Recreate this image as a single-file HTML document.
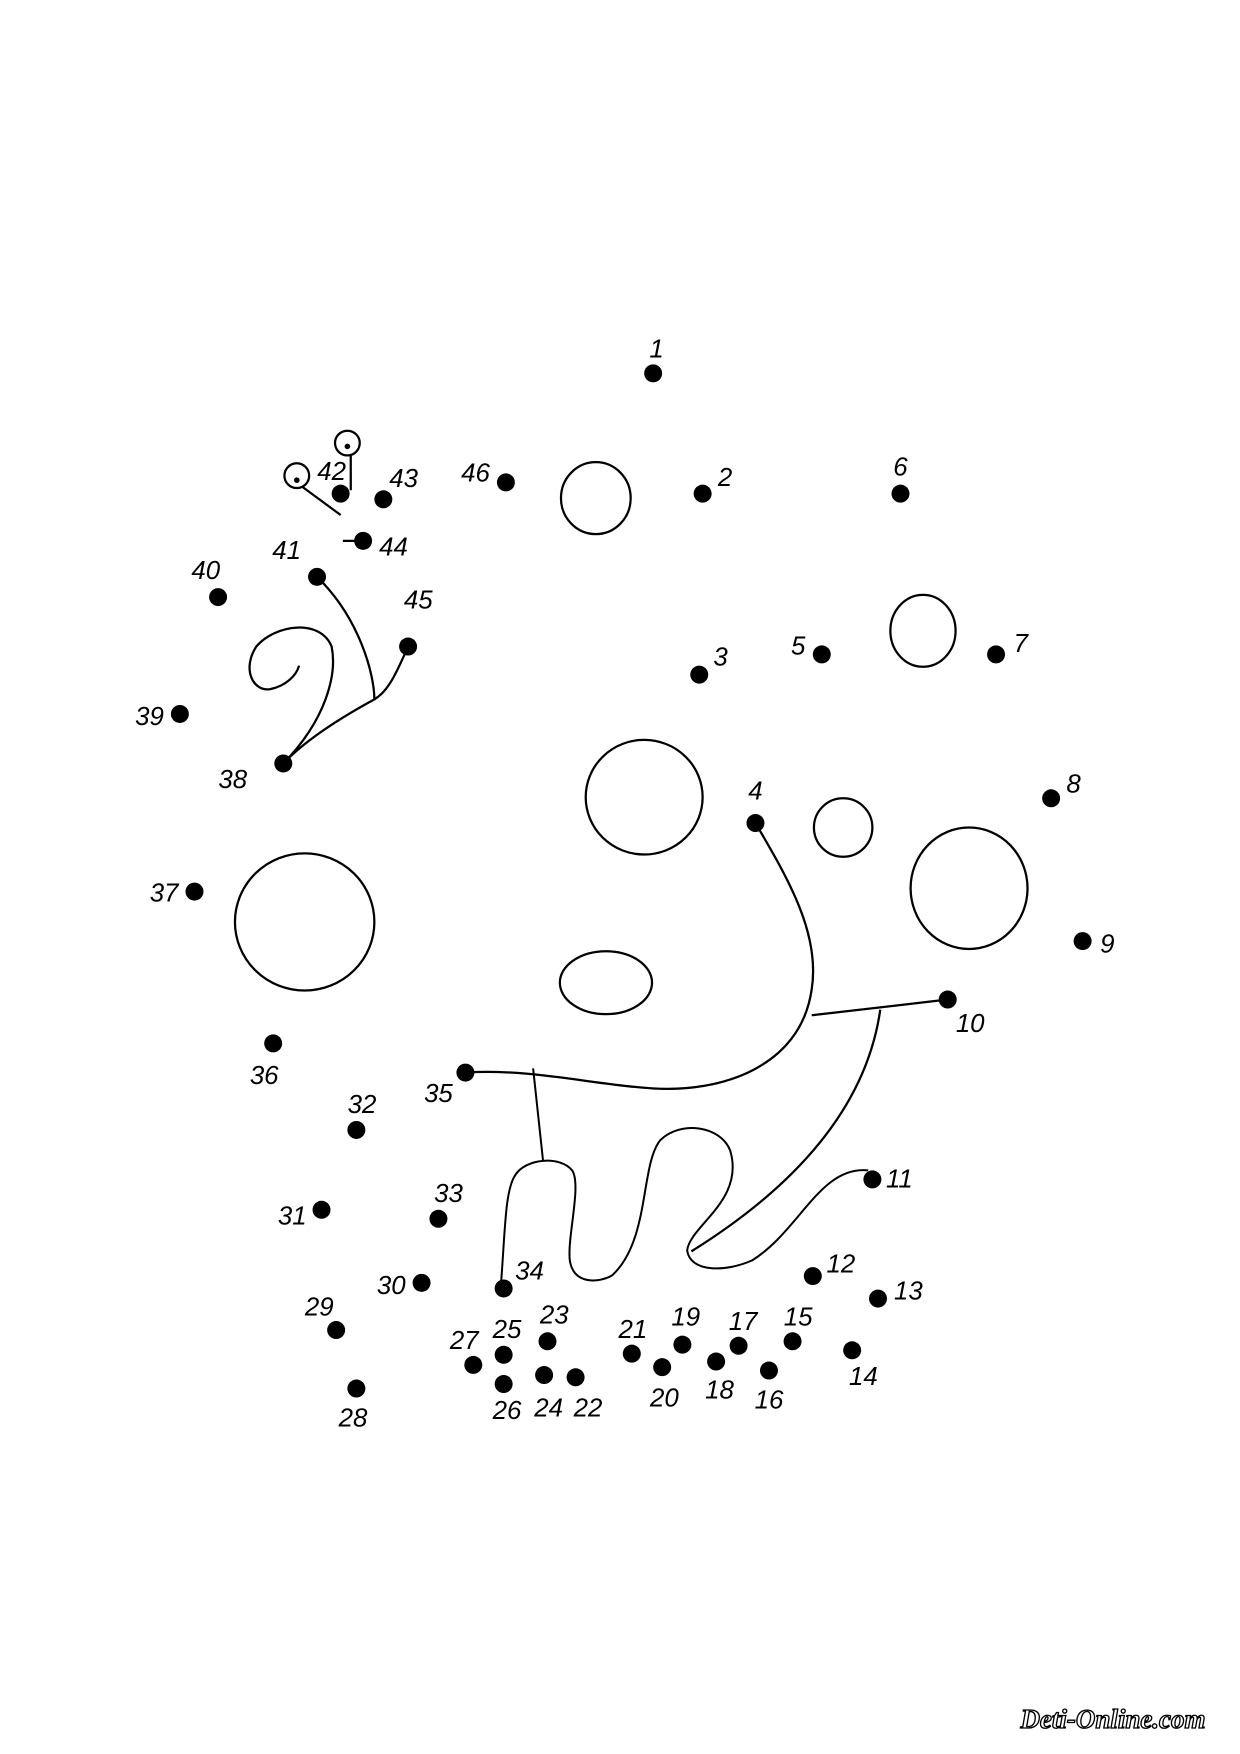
<!DOCTYPE html>
<html><head><meta charset="utf-8"><style>
html,body{margin:0;padding:0;background:#fff;}
svg{display:block}
text{font-family:"Liberation Sans",sans-serif;font-style:italic;font-size:23px;fill:#000;text-anchor:middle}
</style></head><body>
<svg width="1240" height="1754" viewBox="0 0 1103 1560" xmlns="http://www.w3.org/2000/svg">
<rect width="1103" height="1560" fill="#fff"/>
<g fill="none" stroke="#000" stroke-width="2">
<ellipse cx="530" cy="443" rx="31" ry="32"/>
<ellipse cx="821" cy="561" rx="29" ry="32"/>
<ellipse cx="573" cy="709" rx="52" ry="51"/>
<ellipse cx="750" cy="736" rx="26" ry="26"/>
<ellipse cx="862" cy="790" rx="52" ry="54"/>
<ellipse cx="271" cy="820" rx="62" ry="61"/>
<ellipse cx="539" cy="874" rx="41" ry="28"/>
<path d="M672,732 C700,780 730,830 722,880 C712,950 640,972 580,968 C530,965 470,950 414,954"/>
<path d="M722,903 L843,889"/>
<path d="M783,898 C770,990 700,1060 615,1113"/>
<g transform="scale(0.8897)">
<path d="M533,1068 L543,1161"/>
<path d="M501,1282 C505,1230 505,1190 515,1175 C525,1158 560,1155 572,1170 C582,1185 566,1240 570,1262 C575,1285 600,1282 612,1275 C650,1240 640,1165 660,1140 C680,1120 720,1125 730,1150 C745,1200 690,1225 687,1250 C690,1272 725,1272 752,1260 C800,1230 820,1165 868,1170"/>
</g>
<path d="M282,513 C320,550 333,600 333,622 C300,640 270,660 252,679"/>
<path d="M363,575 C352,600 345,615 333,622"/>
<path d="M252,679 C290,640 300,600 295,575 C285,550 245,555 228,575 C215,595 225,615 240,613 C255,610 264,600 266,592"/>
<circle cx="264" cy="423" r="11"/>
<circle cx="309" cy="394" r="11"/>
<path d="M269,433 L303,458 M312,405 L312,436 M305,481 L318,481"/>
</g>
<g fill="#000">
<circle cx="264" cy="427" r="2.5"/><circle cx="309" cy="397" r="2.5"/>
<circle cx="581" cy="332" r="8"/><circle cx="625" cy="439" r="8"/><circle cx="622" cy="600" r="8"/>
<circle cx="672" cy="732" r="8"/><circle cx="731" cy="582" r="8"/><circle cx="801" cy="439" r="8"/>
<circle cx="886" cy="582" r="8"/><circle cx="935" cy="710" r="8"/><circle cx="963" cy="837" r="8"/>
<circle cx="843" cy="889" r="8"/><circle cx="776" cy="1049" r="8"/><circle cx="723" cy="1135" r="8"/>
<circle cx="781" cy="1155" r="8"/><circle cx="758" cy="1201" r="8"/><circle cx="705" cy="1193" r="8"/>
<circle cx="684" cy="1219" r="8"/><circle cx="657" cy="1197" r="8"/><circle cx="637" cy="1211" r="8"/>
<circle cx="607" cy="1196" r="8"/><circle cx="589" cy="1216" r="8"/><circle cx="562" cy="1204" r="8"/>
<circle cx="512" cy="1225" r="8"/><circle cx="487" cy="1193" r="8"/><circle cx="484" cy="1223" r="8"/>
<circle cx="448" cy="1205" r="8"/><circle cx="448" cy="1231" r="8"/><circle cx="421" cy="1214" r="8"/>
<circle cx="317" cy="1235" r="8"/><circle cx="299" cy="1183" r="8"/><circle cx="375" cy="1141" r="8"/>
<circle cx="286" cy="1076" r="8"/><circle cx="317" cy="1005" r="8"/><circle cx="390" cy="1084" r="8"/>
<circle cx="448" cy="1146" r="8"/><circle cx="414" cy="954" r="8"/><circle cx="243" cy="928" r="8"/>
<circle cx="173" cy="793" r="8"/><circle cx="252" cy="679" r="8"/><circle cx="160" cy="635" r="8"/>
<circle cx="194" cy="531" r="8"/><circle cx="282" cy="513" r="8"/><circle cx="303" cy="439" r="8"/>
<circle cx="341" cy="444" r="8"/><circle cx="323" cy="481" r="8"/><circle cx="363" cy="575" r="8"/>
<circle cx="450" cy="429" r="8"/>
</g>
<g>
<text x="584" y="318">1</text><text x="645" y="432">2</text><text x="641" y="592">3</text>
<text x="672" y="711">4</text><text x="710" y="582">5</text><text x="801" y="423">6</text>
<text x="908" y="580">7</text><text x="955" y="705">8</text><text x="985" y="847">9</text>
<text x="863" y="918">10</text><text x="800" y="1056">11</text><text x="748" y="1132">12</text>
<text x="808" y="1156">13</text><text x="768" y="1232">14</text><text x="710" y="1179">15</text>
<text x="684" y="1253">16</text><text x="661" y="1183">17</text><text x="640" y="1244">18</text>
<text x="610" y="1179">19</text><text x="591" y="1251">20</text><text x="563" y="1190">21</text>
<text x="523" y="1260">22</text><text x="493" y="1177">23</text><text x="488" y="1260">24</text>
<text x="451" y="1190">25</text><text x="451" y="1262">26</text><text x="413" y="1200">27</text>
<text x="314" y="1269">28</text><text x="284" y="1170">29</text><text x="348" y="1151">30</text>
<text x="260" y="1089">31</text><text x="322" y="990">32</text><text x="399" y="1069">33</text>
<text x="471" y="1138">34</text><text x="390" y="980">35</text><text x="235" y="964">36</text>
<text x="146" y="802">37</text><text x="207" y="701">38</text><text x="133" y="645">39</text>
<text x="183" y="515">40</text><text x="255" y="497">41</text><text x="295" y="427">42</text>
<text x="359" y="433">43</text><text x="350" y="494">44</text><text x="372" y="541">45</text>
<text x="423" y="428">46</text>
<text x="990" y="1537" style="font-size:24px;font-weight:bold;fill:#fff;stroke:#000;stroke-width:1.2;font-family:'Liberation Serif',serif">Deti-Online.com</text>
</g>
</svg>
</body></html>
